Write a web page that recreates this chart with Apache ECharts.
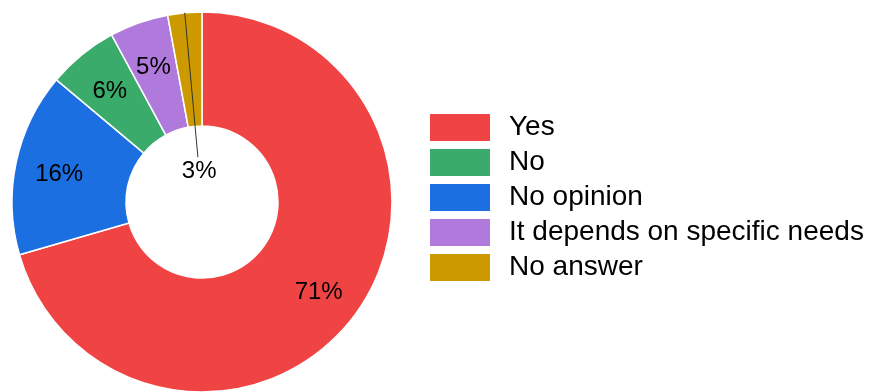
<!DOCTYPE html>
<html>
<head>
<meta charset="utf-8">
<style>
  html, body { margin: 0; padding: 0; background: #ffffff; }
  #chart { width: 873px; height: 392px; }
</style>
<script src="https://cdn.jsdelivr.net/npm/echarts@6/dist/echarts.min.js"></script>
</head>
<body>
<div id="chart"></div>
<script>
// Data (clockwise from 12 o'clock)
const categories = ['Yes', 'No opinion', 'No', 'It depends on specific needs', 'No answer'];
const values = [70.6, 15.6, 6.0, 5.0, 2.9];
// Legend order as shown
const legendOrder = ['Yes', 'No', 'No opinion', 'It depends on specific needs', 'No answer'];
// Palette matching categories
const palette = ['#F04343', '#1B6FE0', '#3AAB6B', '#B07ADD', '#CC9A00'];

// Layout constants
const CX = 202, CY = 202, R_OUT = 190, R_IN = 76;
const LABEL_R = 146, LABEL_DY = 3, SMALL_LABEL_R = 31, SMALL_LINE_END = 45;
const FONT = 'Liberation Sans, Arial, Helvetica, sans-serif';

const total = values.reduce((a, b) => a + b, 0);
function midAngle(i) {
  let acc = 0;
  for (let k = 0; k < i; k++) acc += values[k];
  return (acc + values[i] / 2) / total * 2 * Math.PI;
}
const smallIndex = categories.length - 1;

const chart = echarts.init(document.getElementById('chart'), null, { renderer: 'canvas' });
chart.setOption({
  animation: false,
  backgroundColor: '#ffffff',
  legend: {
    orient: 'vertical',
    left: 423,
    top: 107,
    itemWidth: 62,
    itemHeight: 29,
    itemGap: 4,
    icon: 'rect',
    selectedMode: false,
    data: legendOrder,
    textStyle: {
      fontFamily: FONT,
      fontSize: 28,
      color: '#000000',
      lineHeight: 29,
      padding: [0, 0, 0, 13]
    }
  },
  series: [{
    // the donut itself
    type: 'pie',
    z: 2,
    center: [CX, CY],
    radius: [R_IN, R_OUT],
    startAngle: 90,
    clockwise: true,
    silent: true,
    itemStyle: { borderColor: '#ffffff', borderWidth: 1.5 },
    label: { show: false },
    labelLine: { show: false },
    data: categories.map((name, i) => ({
      name: name,
      value: values[i],
      itemStyle: { color: palette[i] }
    }))
  }, {
    // transparent overlay carrying the percentage labels (drawn above the slices)
    type: 'pie',
    z: 5,
    center: [CX, CY],
    radius: [R_IN, R_OUT],
    startAngle: 90,
    clockwise: true,
    avoidLabelOverlap: false,
    silent: true,
    legendHoverLink: false,
    itemStyle: { color: 'rgba(0,0,0,0)', borderWidth: 0 },
    label: {
      show: true,
      position: 'outside',
      fontFamily: FONT,
      fontSize: 24,
      color: '#000000',
      formatter: p => Math.round(p.percent) + '%'
    },
    labelLine: { show: false },
    labelLayout: function (p) {
      const i = p.dataIndex;
      const a = midAngle(i);
      const sx = Math.sin(a), sy = -Math.cos(a);
      if (i === smallIndex) {
        return {
          x: CX + SMALL_LABEL_R * sx,
          y: CY + SMALL_LABEL_R * sy,
          align: 'center',
          verticalAlign: 'middle',
          labelLinePoints: [
            [CX + R_OUT * sx, CY + R_OUT * sy],
            [CX + SMALL_LINE_END * sx, CY + SMALL_LINE_END * sy],
            [CX + SMALL_LINE_END * sx, CY + SMALL_LINE_END * sy]
          ]
        };
      }
      return {
        x: CX + LABEL_R * sx,
        y: CY + LABEL_R * sy + LABEL_DY,
        align: 'center',
        verticalAlign: 'middle'
      };
    },
    data: categories.map((name, i) => ({
      name: '_' + name,
      value: values[i],
      labelLine: i === smallIndex
        ? { show: true, length: 10, length2: 0, lineStyle: { color: '#333333', width: 1 } }
        : { show: false }
    }))
  }]
});
</script>
</body>
</html>
